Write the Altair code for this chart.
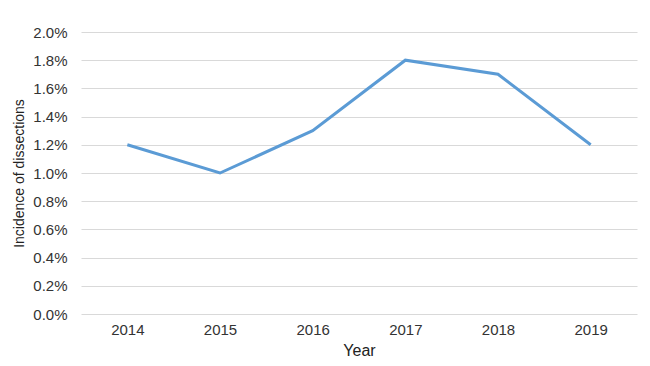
import altair as alt
import pandas as pd

years = ["2014", "2015", "2016", "2017", "2018", "2019"]
incidence = [0.012, 0.010, 0.013, 0.018, 0.017, 0.012]

df = pd.DataFrame({"Year": years, "Incidence": incidence})

chart = alt.Chart(df).mark_line(color="#5b9bd5", strokeWidth=3).encode(
    x=alt.X("Year:N", sort=years, title="Year",
            scale=alt.Scale(type="point", padding=0.5),
            axis=alt.Axis(labelAngle=0, domain=False, ticks=False, tickSize=0, grid=False,
                          labelFontSize=15, labelPadding=8, titleFontSize=16,
                          titleFontWeight="normal", titlePadding=5,
                          labelColor="#333333", titleColor="#222222")),
    y=alt.Y("Incidence:Q", title="Incidence of dissections",
            scale=alt.Scale(domain=[0, 0.02], nice=False),
            axis=alt.Axis(format=".1%", values=[i * 0.002 for i in range(11)],
                          domain=False, ticks=False, tickSize=0,
                          gridColor="#d9d9d9", gridWidth=1,
                          labelFontSize=15, labelPadding=14, titleFontSize=14,
                          titleFontWeight="normal", titlePadding=6,
                          labelColor="#333333", titleColor="#222222")),
).properties(
    width=556, height=282,
    autosize=alt.AutoSizeParams(type="none"),
    padding={"left": 73, "top": 24, "right": 5, "bottom": 60},
).configure(font="Liberation Sans").configure_view(stroke="transparent", strokeWidth=0)

chart.save("out.html", embed_options={"renderer": "svg", "actions": False})
